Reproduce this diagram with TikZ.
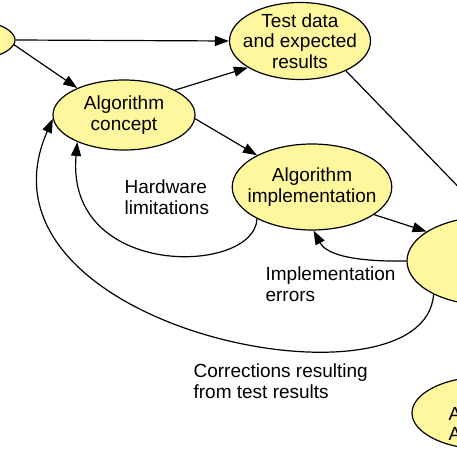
\documentclass[tikz,border=0pt]{standalone}
\usepackage{fontspec}
\setmainfont{Liberation Sans}
\usetikzlibrary{shapes.geometric,arrows.meta}
\definecolor{blobfill}{RGB}{255,247,158}
\begin{document}
\begin{tikzpicture}
[x=1pt,y=-1pt,line width=1.2pt,>={Triangle[length=14pt,width=10pt]},
font=\fontsize{19}{20.5}\selectfont,
blob/.style={ellipse,draw=black,fill=blobfill,inner sep=-8pt,align=center},
note/.style={inner sep=0pt,align=left,anchor=west}]
\useasboundingbox (0,0) rectangle (457,457);
\clip (0,0) rectangle (457,457);
\node[blob,minimum width=140pt,minimum height=47pt] (start) at (-55,40) {};
\node[blob,minimum width=141pt,minimum height=77pt] (testdata) at (300,41) {Test data\\and expected\\results};
\node[blob,minimum width=142pt,minimum height=70pt] (concept) at (124,115) {Algorithm\\concept};
\node[blob,minimum width=158pt,minimum height=86pt] (impl) at (312,187) {Algorithm\\implementation};
\node[blob,minimum width=160pt,minimum height=88pt] (testing) at (487,261) {};
\node[blob,minimum width=150pt,minimum height=73pt] (analysis) at (487,413) {};
\node[note] (lblanalysis) at (448,424) {A\\A};
\node[note] (lblhw) at (124,197) {Hardware\\limitations};
\node[note] (lblimpl) at (265,284) {Implementation\\errors};
\node[note] (lblcorr) at (193,381) {Corrections resulting\\from test results};
\draw[->] (start.east) -- (testdata.west);
\draw[->] (start.-4) -- (concept.150);
\draw[->] (concept.26) -- (testdata.207);
\draw[->] (concept.-3) -- (impl.150);
\draw[->] (impl.-24) -- (testing.154);
\draw[->] (testdata.-33) -- (testing.north);
\draw[->] (testing.west) .. controls (345,262) and (325,252) .. (impl.-88);
\draw[->] (impl.210) .. controls (255,275) and (65,280) .. (concept.210);
\draw[->] (testing.212) .. controls (425,420) and (-40,330) .. (concept.183);
\end{tikzpicture}
\end{document}
